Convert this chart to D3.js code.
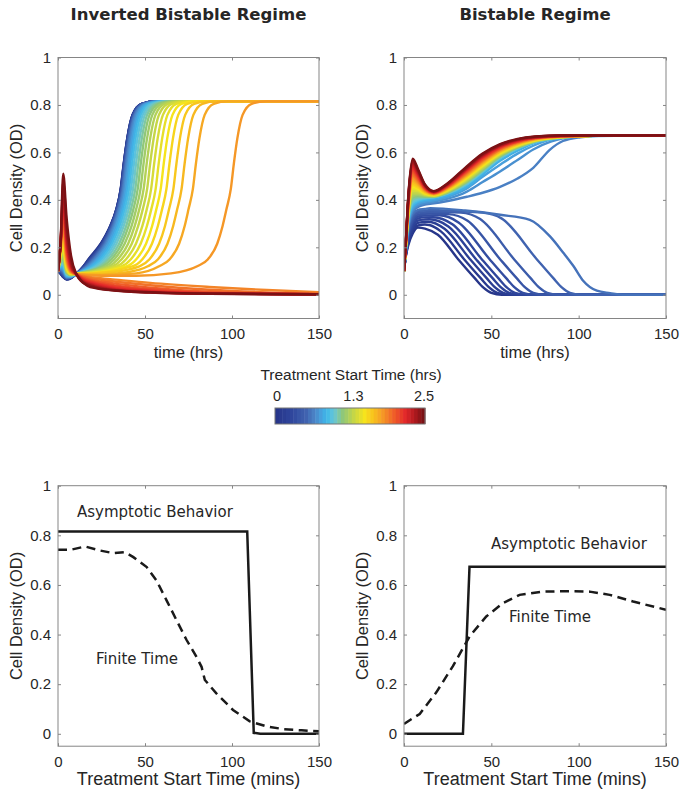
<!DOCTYPE html>
<html>
<head>
<meta charset="utf-8">
<script src="https://cdn.jsdelivr.net/npm/d3@7"></script>
<style>
  body { margin: 0; background: #fff; }
  svg { display: block; }
</style>
</head>
<body>
<svg id="chart" width="686" height="799"></svg>
<script>
/* global d3 */

// treatment start times (hrs), one per simulated curve
var startHrs = [0, 0.0625, 0.125, 0.1875, 0.25, 0.3125, 0.375, 0.4375, 0.5, 0.5625,
  0.625, 0.6875, 0.75, 0.8125, 0.875, 0.9375, 1, 1.0625, 1.125, 1.1875,
  1.25, 1.3125, 1.375, 1.4375, 1.5, 1.5625, 1.625, 1.6875, 1.75, 1.8125,
  1.875, 1.9375, 2, 2.0625, 2.125, 2.1875, 2.25, 2.3125, 2.375, 2.4375, 2.5];
var startMins = [0, 3.75, 7.5, 11.25, 15, 18.75, 22.5, 26.25, 30, 33.75,
  37.5, 41.25, 45, 48.75, 52.5, 56.25, 60, 63.75, 67.5, 71.25,
  75, 78.75, 82.5, 86.25, 90, 93.75, 97.5, 101.25, 105, 108.75,
  112.5, 116.25, 120, 123.75, 127.5, 131.25, 135, 138.75, 142.5, 146.25, 150];

// colour map of the colour bar
var cmapPos = [0, 0.1, 0.2, 0.25, 0.3, 0.34, 0.39, 0.45, 0.52, 0.6, 0.66, 0.72, 0.8, 0.88, 0.94, 1];
var cmapColors = ["#27368a", "#2f469c", "#4063b0", "#4a80c4", "#48a0dc", "#3db8ea", "#68c6d8", "#8fc77a",
  "#c2d54a", "#f6e41c", "#f8c11d", "#f59b26", "#ef5e28", "#e2262a", "#b11a1f", "#7b1114"];

// ---- inverted bistable regime: early part on a shared time grid ----
var tlEarlyT = [0, 1.5, 3, 5, 7.5, 10.5];
var tlEarly = [
  [.1, .088, .074, .064, .070, .088], [.1, .089, .075, .065, .071, .088], [.1, .090, .076, .066, .071, .088],
  [.1, .092, .078, .066, .072, .088], [.1, .093, .080, .067, .072, .088], [.1, .095, .082, .068, .073, .088],
  [.1, .097, .084, .069, .073, .088], [.1, .099, .087, .070, .074, .088], [.1, .102, .090, .071, .074, .088],
  [.1, .105, .094, .073, .075, .088], [.1, .108, .098, .074, .076, .088], [.1, .111, .103, .076, .077, .088],
  [.1, .114, .108, .078, .077, .088], [.1, .118, .114, .080, .078, .088], [.1, .122, .120, .082, .079, .088],
  [.1, .126, .127, .084, .080, .088], [.1, .130, .134, .087, .081, .088], [.1, .135, .142, .090, .082, .088],
  [.1, .140, .150, .093, .083, .088], [.1, .145, .159, .096, .084, .088], [.1, .150, .168, .100, .085, .088],
  [.1, .156, .178, .104, .086, .088], [.1, .162, .189, .108, .087, .088], [.1, .168, .200, .112, .088, .088],
  [.1, .175, .212, .117, .089, .088], [.1, .180, .225, .122, .090, .088], [.1, .185, .238, .128, .092, .088],
  [.1, .190, .252, .134, .093, .087], [.1, .195, .266, .140, .095, .087], [.1, .200, .280, .147, .096, .087],
  [.1, .205, .295, .155, .098, .087], [.1, .208, .310, .165, .100, .087], [.1, .210, .325, .175, .103, .087],
  [.1, .212, .341, .186, .106, .087], [.1, .214, .358, .198, .109, .087], [.1, .216, .375, .211, .113, .087],
  [.1, .218, .393, .225, .118, .087], [.1, .219, .412, .241, .124, .087], [.1, .220, .440, .260, .132, .087],
  [.1, .220, .475, .285, .145, .087], [.1, .220, .510, .320, .165, .088]
];
// ---- inverted bistable regime: later part, [time, OD] points per curve ----
var tlLate = [
  [[14.6, .12], [17.5, .15], [24.5, .215], [30.0, .29], [33.5, .36], [36.0, .445], [37.8, .555], [39.8, .66], [42.8, .758], [48.0, .805], [56.0, .815], [150, .815]],
  [[14.7, .12], [17.7, .15], [24.7, .215], [30.1, .29], [33.55, .36], [36.05, .445], [37.85, .555], [39.85, .66], [42.85, .758], [48.05, .805], [56.05, .815], [150, .815]],
  [[14.8, .12], [18.0, .15], [24.9, .215], [30.2, .29], [33.6, .36], [36.1, .445], [37.9, .555], [39.9, .66], [42.9, .758], [48.1, .805], [56.1, .815], [150, .815]],
  [[15.0, .12], [18.3, .15], [25.1, .215], [30.3, .29], [33.7, .36], [36.2, .445], [38.0, .555], [40.0, .66], [43.0, .758], [48.2, .805], [56.2, .815], [150, .815]],
  [[15.2, .12], [18.5, .15], [25.3, .215], [30.5, .29], [33.8, .36], [36.3, .445], [38.1, .555], [40.1, .66], [43.1, .758], [48.3, .805], [56.3, .815], [150, .815]],
  [[15.4, .12], [18.8, .15], [25.5, .215], [30.6, .29], [33.9, .36], [36.4, .445], [38.2, .555], [40.2, .66], [43.2, .758], [48.4, .805], [56.4, .815], [150, .815]],
  [[15.6, .12], [19.2, .15], [25.8, .215], [30.8, .29], [34.05, .36], [36.55, .445], [38.35, .555], [40.35, .66], [43.35, .758], [48.55, .805], [56.55, .815], [150, .815]],
  [[15.8, .12], [19.5, .15], [26.1, .215], [31.0, .29], [34.2, .36], [36.7, .445], [38.5, .555], [40.5, .66], [43.5, .758], [48.7, .805], [56.7, .815], [150, .815]],
  [[16.1, .12], [19.9, .15], [26.4, .215], [31.3, .29], [34.4, .36], [36.9, .445], [38.7, .555], [40.7, .66], [43.7, .758], [48.9, .805], [56.9, .815], [150, .815]],
  [[16.5, .12], [20.4, .15], [26.9, .215], [31.6, .29], [34.7, .36], [37.2, .445], [39.0, .555], [41.0, .66], [44.0, .758], [49.2, .805], [57.2, .815], [150, .815]],
  [[16.9, .12], [21.0, .15], [27.4, .215], [32.1, .29], [35.1, .36], [37.6, .445], [39.4, .555], [41.4, .66], [44.4, .758], [49.6, .805], [57.6, .815], [150, .815]],
  [[17.6, .12], [21.8, .15], [28.1, .215], [32.7, .29], [35.7, .36], [38.2, .445], [40.0, .555], [42.0, .66], [45.0, .758], [50.2, .805], [58.2, .815], [150, .815]],
  [[18.4, .12], [22.6, .15], [28.9, .215], [33.4, .29], [36.4, .36], [38.9, .445], [40.7, .555], [42.7, .66], [45.7, .758], [50.9, .805], [58.9, .815], [150, .815]],
  [[19.3, .12], [23.7, .15], [30.0, .215], [34.4, .29], [37.3, .36], [39.8, .445], [41.6, .555], [43.6, .66], [46.6, .758], [51.8, .805], [59.8, .815], [150, .815]],
  [[20.4, .12], [24.9, .15], [31.1, .215], [35.4, .29], [38.3, .36], [40.8, .445], [42.6, .555], [44.6, .66], [47.6, .758], [52.8, .805], [60.8, .815], [150, .815]],
  [[21.6, .12], [26.2, .15], [32.3, .215], [36.6, .29], [39.4, .36], [41.9, .445], [43.7, .555], [45.7, .66], [48.7, .758], [53.9, .805], [61.9, .815], [150, .815]],
  [[22.9, .12], [27.6, .15], [33.6, .215], [37.8, .29], [40.6, .36], [43.1, .445], [44.9, .555], [46.9, .66], [49.9, .758], [55.1, .805], [63.1, .815], [150, .815]],
  [[24.2, .12], [29.1, .15], [35.1, .215], [39.2, .29], [41.9, .36], [44.4, .445], [46.2, .555], [48.2, .66], [51.2, .758], [56.4, .805], [64.4, .815], [150, .815]],
  [[25.7, .12], [30.7, .15], [36.6, .215], [40.6, .29], [43.3, .36], [45.8, .445], [47.6, .555], [49.6, .66], [52.6, .758], [57.8, .805], [65.8, .815], [150, .815]],
  [[27.4, .12], [32.4, .15], [38.3, .215], [42.3, .29], [44.9, .36], [47.4, .445], [49.2, .555], [51.2, .66], [54.2, .758], [59.4, .805], [67.4, .815], [150, .815]],
  [[29.3, .12], [34.4, .15], [40.3, .215], [44.1, .29], [46.7, .36], [49.2, .445], [51.0, .555], [53.0, .66], [56.0, .758], [61.2, .805], [69.2, .815], [150, .815]],
  [[31.3, .12], [36.6, .15], [42.4, .215], [46.1, .29], [48.7, .36], [51.2, .445], [53.0, .555], [55.0, .66], [58.0, .758], [63.2, .805], [71.2, .815], [150, .815]],
  [[33.7, .12], [39.1, .15], [44.8, .215], [48.5, .29], [51.0, .36], [53.5, .445], [55.3, .555], [57.3, .66], [60.3, .758], [65.5, .805], [73.5, .815], [150, .815]],
  [[36.4, .12], [41.9, .15], [47.5, .215], [51.1, .29], [53.6, .36], [56.1, .445], [57.9, .555], [59.9, .66], [62.9, .758], [68.1, .805], [76.1, .815], [150, .815]],
  [[39.3, .12], [45.0, .15], [50.6, .215], [54.1, .29], [56.5, .36], [59.0, .445], [60.8, .555], [62.8, .66], [65.8, .758], [71.0, .805], [79.0, .815], [150, .815]],
  [[42.7, .12], [48.5, .15], [54.0, .215], [57.4, .29], [59.8, .36], [62.3, .445], [64.1, .555], [66.1, .66], [69.1, .758], [74.3, .805], [82.3, .815], [150, .815]],
  [[30, .095], [46.8, .12], [52.6, .15], [58.1, .215], [61.5, .29], [63.8, .36], [66.3, .445], [68.1, .555], [70.1, .66], [73.1, .758], [78.3, .805], [86.3, .815], [150, .815]],
  [[25, .086], [40, .095], [51.6, .12], [57.5, .15], [62.9, .215], [66.2, .29], [68.5, .36], [71.0, .445], [72.8, .555], [74.8, .66], [77.8, .758], [83.0, .805], [91.0, .815], [150, .815]],
  [[25, .083], [45, .09], [58.1, .12], [64.2, .15], [69.6, .215], [72.8, .29], [75.0, .36], [77.5, .445], [79.3, .555], [81.3, .66], [84.3, .758], [89.5, .805], [97.5, .815], [150, .815]],
  [[25, .08], [45, .08], [65, .09], [80.0, .12], [86.2, .15], [91.5, .215], [94.6, .29], [96.8, .36], [99.3, .445], [101.1, .555], [103.1, .66], [106.1, .758], [111.3, .805], [119.3, .815], [150, .815]],
  [[14, .08], [20, .073], [30, .066], [53, .05], [87, .033], [120, .02], [150, .011]],
  [[14, .077], [20, .068], [30, .058], [53, .04], [87, .021], [120, .01], [150, .005]],
  [[14, .074], [20, .062], [30, .05], [53, .03], [87, .013], [120, .006], [150, .003]],
  [[14, .071], [20, .057], [30, .043], [53, .023], [87, .009], [150, .002]],
  [[14, .068], [20, .053], [30, .037], [53, .018], [87, .007], [150, .002]],
  [[14, .065], [20, .049], [30, .032], [53, .015], [87, .006], [150, .002]],
  [[14, .062], [20, .045], [30, .028], [53, .013], [87, .005], [150, .002]],
  [[14, .059], [20, .041], [30, .025], [53, .011], [87, .005], [150, .002]],
  [[13.5, .058], [20, .037], [30, .022], [53, .01], [87, .004], [150, .002]],
  [[13, .06], [20, .034], [30, .02], [53, .009], [87, .004], [150, .002]],
  [[12.5, .066], [17, .037], [22, .027], [33, .018], [60, .009], [100, .004], [150, .002]]
];

// ---- bistable regime: curves 0-13 (early grid + later points) ----
var trEarlyT = [0, 1, 2.5, 5, 8, 12];
var trEarly = [
  [.1, .160, .210, .258, .283, .279], [.1, .162, .218, .266, .292, .296], [.1, .164, .226, .277, .303, .307],
  [.1, .166, .234, .288, .313, .317], [.1, .168, .242, .298, .322, .326], [.1, .170, .250, .307, .330, .334],
  [.1, .172, .258, .316, .338, .341], [.1, .174, .266, .325, .345, .348], [.1, .176, .274, .333, .352, .355],
  [.1, .178, .282, .341, .358, .362], [.1, .180, .290, .350, .370, .380], [.1, .182, .296, .358, .377, .386],
  [.1, .184, .302, .366, .384, .393], [.1, .186, .308, .374, .391, .399]
];
var trLate = [
  [[19.4, .253], [31, .15], [40.5, .07], [45.5, .03], [50, .008], [56, 0], [150, 0]],
  [[14.5, .294], [21.1, .267], [34.4, .15], [43.9, .07], [48.9, .03], [53.4, .008], [59.4, 0], [150, 0]],
  [[14, .308], [23.2, .278], [37.8, .15], [47.3, .07], [52.3, .03], [56.8, .008], [62.8, 0], [150, 0]],
  [[14.4, .318], [25.4, .288], [41.2, .15], [50.7, .07], [55.7, .03], [60.2, .008], [66.2, 0], [150, 0]],
  [[16.7, .327], [27.7, .297], [44.5, .15], [54, .07], [59, .03], [63.5, .008], [69.5, 0], [150, 0]],
  [[20.2, .335], [31.2, .305], [49, .15], [58.5, .07], [63.5, .03], [68, .008], [74, 0], [150, 0]],
  [[15, .342], [25.4, .34], [36.4, .312], [55, .15], [64.5, .07], [69.5, .03], [74, .008], [80, 0], [150, 0]],
  [[15, .35], [32.6, .346], [43.6, .319], [63, .15], [72.5, .07], [77.5, .03], [82, .008], [88, 0], [150, 0]],
  [[15, .357], [30, .352], [44.8, .346], [55.8, .322], [76, .15], [85.5, .07], [90.5, .03], [95, .008], [101, 0], [150, 0]],
  [[15, .365], [35, .355], [55, .337], [72, .316], [83.6, .246], [91.2, .177], [97, .121], [102.7, .058], [110.4, .017], [118, .007], [125, 0], [150, 0]],
  [[15, .383], [25, .395], [36, .413], [45, .43], [55, .455], [65, .49], [74, .535], [83.6, .612], [91, .648], [101, .664], [115, .671], [150, .672]],
  [[15, .39], [25, .405], [36, .435], [45, .475], [55, .52], [65, .568], [74, .612], [84, .645], [95, .664], [115, .671], [150, .672]],
  [[15, .396], [25, .413], [36, .448], [45, .497], [55, .548], [65, .595], [74, .628], [85, .656], [100, .668], [150, .672]],
  [[15, .402], [25, .419], [36, .455], [45, .507], [55, .565], [65, .607], [74, .638], [85, .661], [100, .67], [150, .672]]
];
// ---- bistable regime: upper bundle, curves 14-40 on a shared grid ----
var trBundleT = [0, 1, 2.5, 5, 8, 12, 17, 25, 35, 45, 55, 65, 75, 90, 115, 150];
var trBundle = [
  [.1, .188, .315, .380, .395, .405, .410, .425, .460, .515, .575, .615, .643, .662, .671, .672],
  [.1, .189, .319, .387, .400, .407, .411, .427, .463, .518, .577, .617, .644, .662, .671, .672],
  [.1, .190, .323, .395, .405, .410, .412, .428, .466, .521, .580, .618, .645, .663, .671, .672],
  [.1, .192, .327, .402, .411, .412, .413, .430, .469, .524, .582, .620, .646, .663, .671, .672],
  [.1, .193, .331, .410, .416, .414, .414, .432, .472, .527, .584, .621, .647, .663, .671, .672],
  [.1, .194, .335, .417, .421, .417, .415, .434, .474, .530, .587, .623, .648, .664, .671, .672],
  [.1, .195, .339, .425, .426, .419, .416, .435, .477, .533, .589, .625, .649, .664, .671, .672],
  [.1, .197, .343, .432, .431, .421, .417, .437, .480, .537, .591, .626, .649, .664, .671, .672],
  [.1, .198, .347, .439, .437, .423, .418, .439, .483, .540, .593, .628, .650, .665, .671, .672],
  [.1, .199, .351, .447, .442, .426, .419, .441, .486, .543, .596, .630, .651, .665, .671, .672],
  [.1, .200, .355, .454, .447, .428, .420, .442, .489, .546, .598, .631, .652, .665, .671, .672],
  [.1, .202, .359, .462, .452, .430, .421, .444, .492, .549, .600, .633, .653, .666, .671, .672],
  [.1, .203, .363, .469, .457, .433, .422, .446, .495, .552, .603, .634, .654, .666, .671, .672],
  [.1, .204, .368, .477, .463, .435, .424, .448, .498, .555, .605, .636, .655, .667, .671, .672],
  [.1, .205, .372, .484, .468, .437, .425, .449, .500, .558, .607, .638, .656, .667, .671, .672],
  [.1, .206, .376, .491, .473, .440, .426, .451, .503, .561, .610, .639, .657, .667, .671, .672],
  [.1, .208, .380, .499, .478, .442, .427, .453, .506, .564, .612, .641, .658, .668, .671, .672],
  [.1, .209, .384, .506, .483, .444, .428, .454, .509, .567, .614, .642, .659, .668, .671, .672],
  [.1, .210, .388, .514, .488, .447, .429, .456, .512, .570, .617, .644, .660, .668, .671, .672],
  [.1, .211, .392, .521, .494, .449, .430, .458, .515, .573, .619, .646, .661, .669, .671, .672],
  [.1, .213, .396, .528, .499, .451, .431, .460, .518, .577, .621, .647, .661, .669, .671, .672],
  [.1, .214, .400, .536, .504, .453, .432, .461, .521, .580, .623, .649, .662, .669, .671, .672],
  [.1, .215, .404, .543, .509, .456, .433, .463, .523, .583, .626, .651, .663, .670, .671, .672],
  [.1, .216, .408, .551, .514, .458, .434, .465, .526, .586, .628, .652, .664, .670, .671, .672],
  [.1, .218, .412, .558, .520, .460, .435, .467, .529, .589, .630, .654, .665, .670, .671, .672],
  [.1, .219, .416, .566, .525, .463, .436, .468, .532, .592, .633, .655, .666, .671, .671, .672],
  [.1, .220, .420, .573, .530, .465, .437, .470, .535, .595, .635, .657, .667, .671, .671, .672]
];

// ---- bottom panels ----
var blAsymptotic = [.815, .815, .815, .815, .815, .815, .815, .815, .815, .815,
  .815, .815, .815, .815, .815, .815, .815, .815, .815, .815,
  .815, .815, .815, .815, .815, .815, .815, .815, .815, .815,
  .004, 0, 0, 0, 0, 0, 0, 0, 0, 0, 0];
var blFiniteMins = [0, 7.5, 15.5, 24, 31.8, 38.5, 43.3, 51, 56.6, 62.4, 68.1, 73.9, 79.6, 82.5, 84.4, 91, 100.6, 110.2, 119.8, 129.3, 140, 150];
var blFinite = [.742, .742, .755, .739, .728, .732, .712, .672, .618, .538, .458, .378, .31, .27, .217, .163, .096, .05, .03, .019, .014, .01];
var brAsymptotic = [0, 0, 0, 0, 0, 0, 0, 0, 0, 0,
  .673, .673, .673, .673, .673, .673, .673, .673, .673, .673,
  .673, .673, .673, .673, .673, .673, .673, .673, .673, .673,
  .673, .673, .673, .673, .673, .673, .673, .673, .673, .673, .673];
var brFiniteMins = [0, 9, 18.5, 28, 37.6, 47.1, 56.7, 66.2, 79.6, 94.9, 106.3, 117.8, 131.2, 150];
var brFinite = [.04, .08, .167, .273, .393, .473, .527, .56, .573, .575, .573, .56, .533, .5];

var xTicks = [0, 50, 100, 150];
var yTicks = [0, 0.2, 0.4, 0.6, 0.8, 1];
var cbTicks = [0, 1.3, 2.5];

// ------------------------------------------------------------------
var svg = d3.select( "#chart" );
var tickFont = "'Liberation Sans', Arial, sans-serif";
var noteFont = "'DejaVu Sans', sans-serif";
var inkColor = "#262626";
var boxColor = "#858585";

var color = d3.scaleLinear()
  .domain( cmapPos.map( function ( p ) { return p * 2.5; } ) )
  .range( cmapColors )
  .interpolate( d3.interpolateRgb );

function makePanel( o, id ) {
  var x = d3.scaleLinear().domain( [0, 150] ).range( [o.left, o.right] );
  var y = d3.scaleLinear().domain( o.yDomain ).range( [o.bottom, o.top] );
  var g = svg.append( "g" );

  svg.append( "clipPath" ).attr( "id", "clip-" + id )
    .append( "rect" )
    .attr( "x", o.left ).attr( "y", o.top )
    .attr( "width", o.right - o.left ).attr( "height", o.bottom - o.top );

  var plot = g.append( "g" ).attr( "clip-path", "url(#clip-" + id + ")" );

  function styleAxis( sel ) {
    sel.select( ".domain" ).remove();
    sel.selectAll( ".tick line" ).attr( "stroke", boxColor );
    sel.selectAll( ".tick text" )
      .attr( "fill", inkColor )
      .style( "font-family", tickFont )
      .style( "font-size", "15px" );
  }

  var fmt = function ( d ) { return String( d ); };
  g.append( "g" ).attr( "transform", "translate(0," + o.bottom + ")" )
    .call( d3.axisBottom( x ).tickValues( xTicks ).tickSize( -3 ).tickPadding( 10 ).tickFormat( fmt ) )
    .call( styleAxis );
  g.append( "g" ).attr( "transform", "translate(0," + o.top + ")" )
    .call( d3.axisTop( x ).tickValues( xTicks ).tickSize( -3 ).tickFormat( "" ) )
    .call( styleAxis );
  g.append( "g" ).attr( "transform", "translate(" + o.left + ",0)" )
    .call( d3.axisLeft( y ).tickValues( yTicks ).tickSize( -3 ).tickPadding( 7 ).tickFormat( fmt ) )
    .call( styleAxis );
  g.append( "g" ).attr( "transform", "translate(" + o.right + ",0)" )
    .call( d3.axisRight( y ).tickValues( yTicks ).tickSize( -3 ).tickFormat( "" ) )
    .call( styleAxis );

  g.append( "rect" )
    .attr( "x", o.left ).attr( "y", o.top )
    .attr( "width", o.right - o.left ).attr( "height", o.bottom - o.top )
    .attr( "fill", "none" ).attr( "stroke", boxColor ).attr( "stroke-width", 1 );

  // axis titles
  g.append( "text" )
    .attr( "x", ( o.left + o.right ) / 2 ).attr( "y", o.bottom + 39 )
    .attr( "text-anchor", "middle" ).attr( "fill", inkColor )
    .style( "font-family", tickFont ).style( "font-size", o.xTitleSize )
    .text( o.xTitle );
  g.append( "text" )
    .attr( "transform", "translate(" + ( o.left - 36 ) + "," + ( ( o.top + o.bottom ) / 2 ) + ") rotate(-90)" )
    .attr( "text-anchor", "middle" ).attr( "fill", inkColor )
    .style( "font-family", tickFont ).style( "font-size", "16.5px" )
    .text( "Cell Density (OD)" );

  return { x: x, y: y, g: g, plot: plot };
}

function drawCurves( p, curves ) {
  var line = d3.line()
    .x( function ( d ) { return p.x( d[0] ); } )
    .y( function ( d ) { return p.y( d[1] ); } )
    .curve( d3.curveMonotoneX );
  p.plot.selectAll( "path.sim" )
    .data( curves )
    .enter().append( "path" )
    .attr( "class", "sim" )
    .attr( "d", function ( d ) { return line( d.pts ); } )
    .attr( "fill", "none" )
    .attr( "stroke", function ( d ) { return color( d.start ); } )
    .attr( "stroke-width", 2.4 );
}

// build the curve lists from the data tables
var tlCurves = startHrs.map( function ( s, k ) {
  var pts = tlEarlyT.map( function ( t, i ) { return [t, tlEarly[k][i]]; } ).concat( tlLate[k] );
  return { start: s, pts: pts };
} );
var trCurves = startHrs.map( function ( s, k ) {
  var pts;
  if ( k < trEarly.length ) {
    pts = trEarlyT.map( function ( t, i ) { return [t, trEarly[k][i]]; } ).concat( trLate[k] );
  } else {
    var row = trBundle[k - trEarly.length];
    pts = trBundleT.map( function ( t, i ) { return [t, row[i]]; } );
  }
  return { start: s, pts: pts };
} );

// titles
svg.append( "text" ).attr( "x", 188.5 ).attr( "y", 20 ).attr( "text-anchor", "middle" )
  .attr( "fill", inkColor ).style( "font-family", noteFont ).style( "font-weight", "bold" ).style( "font-size", "16.5px" )
  .text( "Inverted Bistable Regime" );
svg.append( "text" ).attr( "x", 535 ).attr( "y", 20 ).attr( "text-anchor", "middle" )
  .attr( "fill", inkColor ).style( "font-family", noteFont ).style( "font-weight", "bold" ).style( "font-size", "16.5px" )
  .text( "Bistable Regime" );

var tl = makePanel( { left: 58, right: 319, top: 57.5, bottom: 318.5, yDomain: [-0.1, 1], xTitle: "time (hrs)", xTitleSize: "16.5px" }, "tl" );
var tr = makePanel( { left: 404, right: 666, top: 57.5, bottom: 318.5, yDomain: [-0.1, 1], xTitle: "time (hrs)", xTitleSize: "16.5px" }, "tr" );
drawCurves( tl, tlCurves );
drawCurves( tr, trCurves );

// colour bar
var cbX = d3.scaleBand().domain( startHrs ).range( [275, 425] );
var cbAxis = d3.scaleLinear().domain( [0, 2.5] ).range( [277, 424] );
var cb = svg.append( "g" );
cb.selectAll( "rect.cell" )
  .data( startHrs )
  .enter().append( "rect" )
  .attr( "class", "cell" )
  .attr( "x", function ( d ) { return cbX( d ); } )
  .attr( "y", 408 )
  .attr( "width", cbX.bandwidth() + 0.5 )
  .attr( "height", 16 )
  .attr( "fill", function ( d ) { return color( d ); } );
cb.append( "rect" ).attr( "x", 275 ).attr( "y", 408 ).attr( "width", 150 ).attr( "height", 16 )
  .attr( "fill", "none" ).attr( "stroke", "#777" ).attr( "stroke-width", 1 );
cb.selectAll( "text.cbtick" )
  .data( cbTicks )
  .enter().append( "text" )
  .attr( "class", "cbtick" )
  .attr( "x", function ( d ) { return cbAxis( d ); } )
  .attr( "y", 401 )
  .attr( "text-anchor", "middle" ).attr( "fill", inkColor )
  .style( "font-family", tickFont ).style( "font-size", "14.5px" )
  .text( function ( d ) { return String( d ); } );
cb.append( "text" ).attr( "x", 351 ).attr( "y", 380 ).attr( "text-anchor", "middle" )
  .attr( "fill", inkColor ).style( "font-family", tickFont ).style( "font-size", "15.5px" )
  .text( "Treatment Start Time (hrs)" );

// bottom panels
var bl = makePanel( { left: 58, right: 319, top: 485.7, bottom: 746.2, yDomain: [-0.05, 1], xTitle: "Treatment Start Time (mins)", xTitleSize: "18px" }, "bl" );
var br = makePanel( { left: 404, right: 666, top: 485.7, bottom: 746.2, yDomain: [-0.05, 1], xTitle: "Treatment Start Time (mins)", xTitleSize: "18px" }, "br" );

function drawSummary( p, asym, finMins, fin ) {
  var line = d3.line()
    .x( function ( d ) { return p.x( d[0] ); } )
    .y( function ( d ) { return p.y( d[1] ); } );
  p.plot.append( "path" )
    .attr( "d", line( finMins.map( function ( m, i ) { return [m, fin[i]]; } ) ) )
    .attr( "fill", "none" ).attr( "stroke", "#1a1a1a" ).attr( "stroke-width", 2.5 )
    .attr( "stroke-dasharray", "9,5.5" );
  p.plot.append( "path" )
    .attr( "d", line( startMins.map( function ( m, i ) { return [m, asym[i]]; } ) ) )
    .attr( "fill", "none" ).attr( "stroke", "#1a1a1a" ).attr( "stroke-width", 2.5 );
}
drawSummary( bl, blAsymptotic, blFiniteMins, blFinite );
drawSummary( br, brAsymptotic, brFiniteMins, brFinite );

function note( x, y, s ) {
  svg.append( "text" ).attr( "x", x ).attr( "y", y )
    .attr( "fill", inkColor ).style( "font-family", noteFont ).style( "font-size", "15px" )
    .text( s );
}
note( 77, 517, "Asymptotic Behavior" );
note( 96, 664, "Finite Time" );
note( 491, 549, "Asymptotic Behavior" );
note( 509, 622, "Finite Time" );
</script>
</body>
</html>
